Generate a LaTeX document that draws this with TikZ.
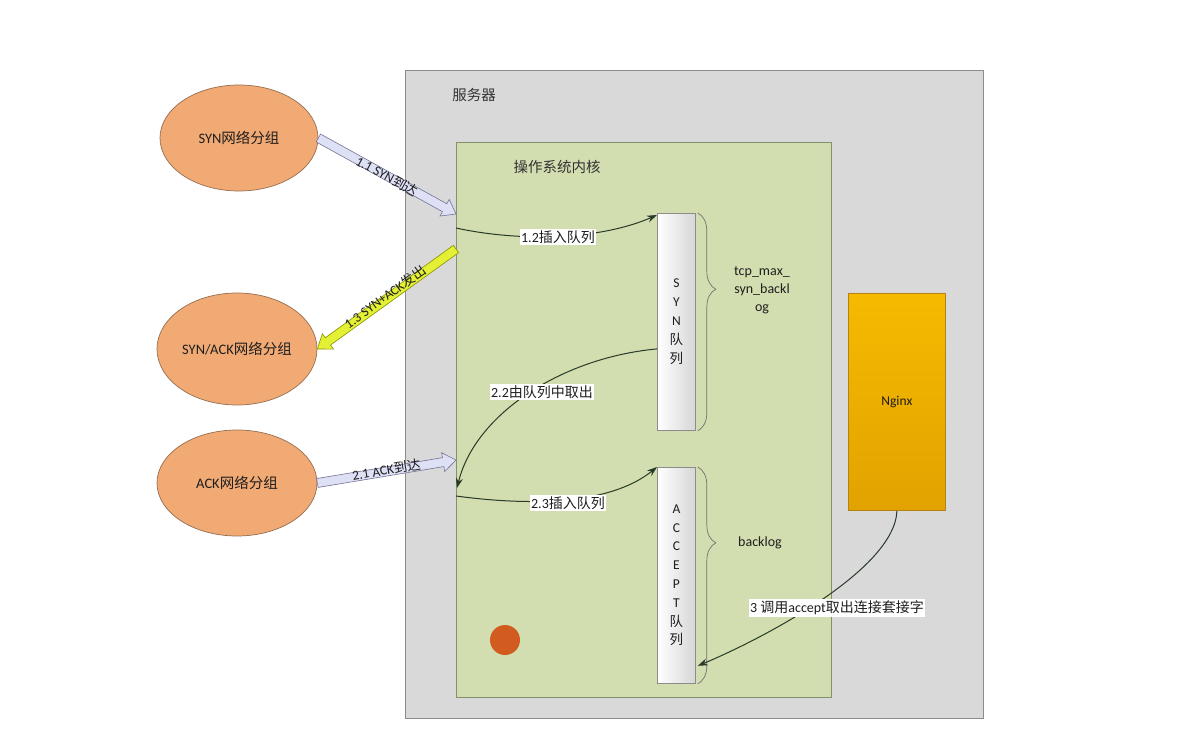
\documentclass[tikz,border=0pt]{standalone}
\usepackage{fontspec}
\setmainfont{Carlito}
\newfontfamily\cjk{Noto Sans CJK SC}
\usetikzlibrary{calc,decorations.pathreplacing,arrows.meta,shapes.geometric}
\newcommand\zh[1]{{\cjk #1}}
\definecolor{srvfill}{RGB}{217,217,217}
\definecolor{srvline}{RGB}{140,140,140}
\definecolor{kerfill}{RGB}{210,221,176}
\definecolor{kerline}{RGB}{130,145,105}
\definecolor{ellfill}{RGB}{241,170,116}
\definecolor{ellline}{RGB}{150,110,80}
\definecolor{lavfill}{RGB}{222,224,246}
\definecolor{lavline}{RGB}{115,115,150}
\definecolor{yelfill}{RGB}{228,240,52}
\definecolor{yelline}{RGB}{135,145,0}
\definecolor{ngtop}{RGB}{246,186,0}
\definecolor{ngbot}{RGB}{226,162,0}
\definecolor{ngline}{RGB}{180,130,20}
\definecolor{conncol}{RGB}{40,58,40}
\definecolor{dotcol}{RGB}{210,92,32}
\definecolor{txt}{RGB}{30,30,30}
\newcommand\fatarr[3]{%
  \draw[#1] ($(#2)!4.5pt!90:(#3)$) -- ($(#3)!13pt!(#2)!4.5pt!90:(#3)$) -- ($(#3)!13pt!(#2)!9.5pt!90:(#3)$) -- (#3)
   -- ($(#3)!13pt!(#2)!9.5pt!-90:(#3)$) -- ($(#3)!13pt!(#2)!4.5pt!-90:(#3)$) -- ($(#2)!4.5pt!-90:(#3)$) -- cycle;}
\begin{document}
\begin{tikzpicture}[x=1pt,y=-1pt,
  box/.style={draw, anchor=north west, inner sep=0pt, line width=0.8pt},
  ell/.style={ellipse, draw=ellline, fill=ellfill, line width=0.7pt, inner sep=0pt, text=txt, font=\fontsize{14.5}{16}\selectfont},
  queue/.style={box, draw=black!45, left color=white, right color=black!16, align=center, text=txt, font=\fontsize{13.5}{19}\selectfont},
  conn/.style={draw=conncol, line width=1pt, -{Stealth[length=10pt,width=7pt]}},
  lbl/.style={fill=white, inner sep=1.5pt, font=\fontsize{14}{16}\selectfont, text=txt},
  arrlbl/.style={font=\fontsize{13.5}{15}\selectfont, inner sep=0pt, text=txt},
  brc/.style={draw=black!55, line width=0.7pt, decorate, decoration={brace, amplitude=18pt, aspect=0.35}},
  title/.style={font=\fontsize{14.5}{16}\selectfont\cjk, text=black!80}
]
\useasboundingbox (0,0) rectangle (1192,730);
\fill[white] (0,0) rectangle (1192,730);

% boxes
\node[box, draw=srvline, fill=srvfill, minimum width=578pt, minimum height=648pt] (server) at (405,70) {};
\node[title] (srvlbl) at (474,95) {服务器};
\node[box, draw=kerline, fill=kerfill, minimum width=375pt, minimum height=555pt] (kernel) at (456,142) {};
\node[title] (kerlbl) at (557,167) {操作系统内核};

% queues
\node[queue, minimum width=38pt, minimum height=217pt] (synq) at (657,213) {S\\Y\\N\\\zh{队}\\\zh{列}};
\node[queue, minimum width=38pt, minimum height=216pt, font=\fontsize{13.5}{18.8}\selectfont] (accq) at (657,467) {A\\C\\C\\E\\P\\T\\\zh{队}\\\zh{列}};

% braces
\draw[brc] ($(synq.north east)+(2,0)$) -- ($(synq.south east)+(2,0)$);
\draw[brc] ($(accq.north east)+(2,0)$) -- ($(accq.south east)+(2,0)$);
\node[align=center, font=\fontsize{14}{18}\selectfont, text=txt] (synbl) at (762,290) {tcp\_max\_\\syn\_backl\\og};
\node[font=\fontsize{14}{16}\selectfont, text=txt] (accbl) at (760,543) {backlog};

% nginx
\node[box, draw=ngline, top color=ngtop, bottom color=ngbot, minimum width=97pt, minimum height=217pt] (nginx) at (848,293) {};
\node[font=\fontsize{13.5}{15}\selectfont, text=txt] (nglbl) at (nginx.center) {Nginx};

% ellipses
\node[ell, minimum width=158pt, minimum height=106pt] (syn) at (239,138) {SYN\zh{网络分组}};
\node[ell, minimum width=160pt, minimum height=112pt] (synack) at (237,349) {SYN/ACK\zh{网络分组}};
\node[ell, minimum width=160pt, minimum height=106pt] (ack) at (237,483) {ACK\zh{网络分组}};

% kernel edge points
\coordinate (k11) at (456,214);
\coordinate (k13) at (456,249);
\coordinate (k21) at (456,460);
\coordinate (k12) at (456,228);
\coordinate (k22) at (457,488);
\coordinate (k23) at (456,496);

% fat arrows
\fatarr{draw=lavline, fill=lavfill, line width=0.6pt}{syn.east}{k11}
\path (syn.east) -- (k11) node[midway, sloped, arrlbl] {1.1 SYN\zh{到达}};
\fatarr{draw=yelline, fill=yelfill, line width=0.6pt}{k13}{synack.east}
\path (k13) -- (synack.east) node[midway, sloped, arrlbl, yshift=3pt] {1.3 SYN+ACK\zh{发出}};
\fatarr{draw=lavline, fill=lavfill, line width=0.6pt}{ack.east}{k21}
\path (ack.east) -- (k21) node[midway, sloped, arrlbl, yshift=2pt] {2.1 ACK\zh{到达}};

% curved connectors
\draw[conn] (k12) .. controls (520,242) and (600,240) .. ($(synq.north west)+(0,2)$);
\node[lbl] (l12) at (558,237) {1.2\zh{插入队列}};
\draw[conn] ($(synq.west)+(0,27)$) .. controls (560,358) and (475,415) .. (k22);
\node[lbl] (l22) at (542,392) {2.2\zh{由队列中取出}};
\draw[conn] (k23) .. controls (530,506) and (610,505) .. ($(accq.north west)+(0,0)$);
\node[lbl] (l23) at (568,503) {2.3\zh{插入队列}};
\draw[conn] (nginx.south) .. controls (895,570) and (760,640) .. ($(accq.south east)+(2,-18)$);
\node[lbl] (l3) at (837,608) {3 \zh{调用}accept\zh{取出连接套接字}};

% cursor highlight
\node[circle, fill=dotcol, minimum size=30pt, inner sep=0pt] (dot) at (505,640) {};
\end{tikzpicture}
\end{document}
